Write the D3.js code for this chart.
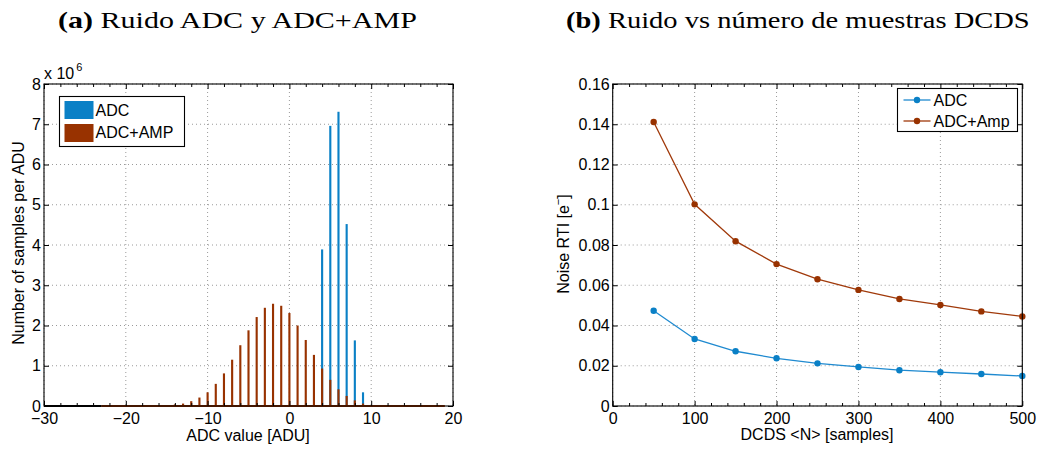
<!DOCTYPE html>
<html>
<head>
<meta charset="utf-8">
<script src="https://cdn.jsdelivr.net/npm/d3@7"></script>
<style>
  html, body { margin: 0; padding: 0; background: #fff; }
  svg { display: block; }
  .sans { font-family: "Liberation Sans", Arial, Helvetica, sans-serif; }
</style>
</head>
<body>
<svg id="chart" width="1053" height="450"></svg>
<script>
// ---------------- DATA ----------------
// (a) histogram: counts in units of 1e6
const adcBins   = [4, 5, 6, 7, 8, 9];
const adcCounts = [3.89, 6.96, 7.31, 4.52, 1.63, 0.34];

const ampBins   = [-23, -22, -21, -20, -19, -18, -17, -16, -15, -14, -13, -12, -11, -10,
                   -9, -8, -7, -6, -5, -4, -3, -2, -1, 0, 1, 2, 3, 4, 5, 6, 7, 8, 9,
                   10, 11, 12, 13, 14, 15, 16, 17, 18, 19];
const ampCounts = [0, 0, 0, 0, 0, 0, 0.005, 0.01, 0.02, 0.04, 0.06, 0.12, 0.21, 0.34,
                   0.55, 0.81, 1.15, 1.51, 1.88, 2.21, 2.44, 2.54, 2.49, 2.31, 2.0, 1.64, 1.27, 0.93, 0.65, 0.415, 0.25, 0.14, 0.06,
                   0.02, 0.01, 0, 0, 0, 0, 0, 0, 0, 0];

const histXTicks      = [-30, -20, -10, 0, 10, 20];
const histXTickLabels = ["\u221230", "\u221220", "\u221210", "0", "10", "20"];
const histXMinor      = [-28, -26, -24, -22, -18, -16, -14, -12, -8, -6, -4, -2, 2, 4, 6, 8, 12, 14, 16, 18];
const histYTicks      = [0, 1, 2, 3, 4, 5, 6, 7, 8];
const histYTickLabels = ["0", "1", "2", "3", "4", "5", "6", "7", "8"];

// (b) noise vs DCDS samples
const dcdsN      = [50, 100, 150, 200, 250, 300, 350, 400, 450, 500];
const noiseADC   = [0.0473, 0.0333, 0.0272, 0.0237, 0.0212, 0.0194, 0.0178, 0.0168, 0.0159, 0.0149];
const noiseAmp   = [0.1411, 0.1002, 0.0819, 0.0705, 0.0630, 0.0577, 0.0532, 0.0502, 0.0470, 0.0445];

const noiseXTicks      = [0, 100, 200, 300, 400, 500];
const noiseXTickLabels = ["0", "100", "200", "300", "400", "500"];
const noiseXMinor      = [20, 40, 60, 80, 120, 140, 160, 180, 220, 240, 260, 280, 320, 340, 360, 380, 420, 440, 460, 480];
const noiseYTicks      = [0, 0.02, 0.04, 0.06, 0.08, 0.1, 0.12, 0.14, 0.16];
const noiseYTickLabels = ["0", "0.02", "0.04", "0.06", "0.08", "0.1", "0.12", "0.14", "0.16"];

const seriesNamesA = ["ADC", "ADC+AMP"];
const seriesNamesB = ["ADC", "ADC+Amp"];

// ---------------- STYLE ----------------
const BLUE = "#0a80c6";
const ORANGE = "#983200";
const BLUE_LINE = "#1f8ad0";
const ORANGE_LINE = "#a0390a";
const FONT = 16;

const svg = d3.select("#chart");

// ---------------- helpers ----------------
function gridAndBox(g, x, y, xTicks, yTicks, w, h) {
  const grid = g.append("g");
  grid.selectAll("line.gx").data(xTicks).join("line")
    .attr("x1", d => x(d)).attr("x2", d => x(d)).attr("y1", 0).attr("y2", h)
    .attr("stroke", "#9a9a9a").attr("stroke-width", 1).attr("stroke-dasharray", "1,3");
  grid.selectAll("line.gy").data(yTicks).join("line")
    .attr("x1", 0).attr("x2", w).attr("y1", d => y(d)).attr("y2", d => y(d))
    .attr("stroke", "#9a9a9a").attr("stroke-width", 1).attr("stroke-dasharray", "1,3");
}

function axes(g, x, y, w, h, xTicks, xLabels, xMinor, yTicks, yLabels) {
  const style = sel => {
    sel.select(".domain").remove();
    sel.selectAll(".tick line").attr("stroke", "#000");
    sel.selectAll(".tick text").attr("fill", "#000").attr("font-size", FONT)
      .attr("font-family", '"Liberation Sans", Arial, Helvetica, sans-serif');
  };
  g.append("g").attr("transform", `translate(0,${h})`)
    .call(d3.axisBottom(x).tickValues(xTicks).tickSize(-5).tickPadding(7)
      .tickFormat((d, i) => xLabels[i])).call(style);
  g.append("g").attr("transform", `translate(0,${h})`)
    .call(d3.axisBottom(x).tickValues(xMinor).tickSize(-3).tickFormat("")).call(style);
  g.append("g")
    .call(d3.axisTop(x).tickValues(xTicks).tickSize(-5).tickFormat("")).call(style);
  g.append("g")
    .call(d3.axisTop(x).tickValues(xMinor).tickSize(-3).tickFormat("")).call(style);
  g.append("g")
    .call(d3.axisLeft(y).tickValues(yTicks).tickSize(-5).tickPadding(3)
      .tickFormat((d, i) => yLabels[i])).call(style);
  g.append("g").attr("transform", `translate(${w},0)`)
    .call(d3.axisRight(y).tickValues(yTicks).tickSize(-5).tickFormat("")).call(style);
  g.append("rect").attr("x", 0).attr("y", 0).attr("width", w).attr("height", h)
    .attr("fill", "none").attr("stroke", "#000").attr("stroke-width", 1.1);
}

function title(x0, x1, yb, bold, rest) {
  const t = svg.append("text").attr("font-family", '"Liberation Serif", "Times New Roman", serif')
    .attr("font-size", 24).attr("fill", "#000").attr("x", 0).attr("y", 0);
  t.append("tspan").attr("font-weight", "bold").text(bold);
  t.append("tspan").text(" " + rest);
  const w = t.node().getComputedTextLength();
  t.attr("transform", `translate(${x0},${yb}) scale(${(x1 - x0) / w},1)`);
}

// ---------------- PANEL (a) ----------------
const A = { left: 44, right: 453, top: 84, bottom: 406 };
const aw = A.right - A.left, ah = A.bottom - A.top;
const ga = svg.append("g").attr("transform", `translate(${A.left},${A.top})`);
const xa = d3.scaleLinear().domain([-30, 20]).range([0, aw]);
const ya = d3.scaleLinear().domain([0, 8]).range([ah, 0]);

gridAndBox(ga, xa, ya, histXTicks, histYTicks, aw, ah);

const barW = xa(0.26) - xa(0);
ga.append("g").selectAll("rect").data(adcBins).join("rect")
  .attr("x", (d) => xa(d) - barW / 2).attr("width", barW)
  .attr("y", (d, i) => ya(adcCounts[i])).attr("height", (d, i) => ya(0) - ya(adcCounts[i]))
  .attr("fill", BLUE);
ga.append("g").selectAll("rect").data(ampBins).join("rect")
  .attr("x", (d) => xa(d) - barW / 2).attr("width", barW)
  .attr("y", (d, i) => ya(ampCounts[i])).attr("height", (d, i) => ya(0) - ya(ampCounts[i]))
  .attr("fill", ORANGE);
// baseline of the histograms
ga.append("line").attr("x1", xa(-30)).attr("x2", xa(d3.min(ampBins)))
  .attr("y1", ya(0)).attr("y2", ya(0)).attr("stroke", "#000").attr("stroke-width", 2);
ga.append("line").attr("x1", xa(d3.min(ampBins))).attr("x2", xa(d3.max(ampBins)))
  .attr("y1", ya(0)).attr("y2", ya(0)).attr("stroke", ORANGE).attr("stroke-width", 2);

axes(ga, xa, ya, aw, ah, histXTicks, histXTickLabels, histXMinor, histYTicks, histYTickLabels);

// x 10^6
const e6 = svg.append("text").attr("class", "sans").attr("x", 44).attr("y", 79)
  .attr("font-size", FONT).attr("fill", "#000");
e6.append("tspan").text("x 10");
e6.append("tspan").attr("font-size", 11).attr("dx", 2).attr("dy", -8).text("6");

// legend (a)
const la = svg.append("g").attr("transform", "translate(59.5,96.5)");
la.append("rect").attr("width", 125).attr("height", 50).attr("fill", "#fff")
  .attr("stroke", "#000").attr("stroke-width", 1.1);
[BLUE, ORANGE].forEach((c, i) => {
  la.append("rect").attr("x", 5).attr("y", 4.5 + i * 23).attr("width", 29).attr("height", 18).attr("fill", c);
  la.append("text").attr("class", "sans").attr("x", 36).attr("y", 19.5 + i * 22)
    .attr("font-size", FONT).attr("fill", "#000").text(seriesNamesA[i]);
});

// axis labels (a)
svg.append("text").attr("class", "sans").attr("x", 248).attr("y", 441)
  .attr("text-anchor", "middle").attr("font-size", FONT).attr("fill", "#000").text("ADC value [ADU]");
svg.append("text").attr("class", "sans").attr("transform", "translate(24,243) rotate(-90)")
  .attr("text-anchor", "middle").attr("font-size", FONT).attr("fill", "#000").text("Number of samples per ADU");

// ---------------- PANEL (b) ----------------
const B = { left: 612.7, right: 1022.3, top: 84, bottom: 406 };
const bw = B.right - B.left, bh = B.bottom - B.top;
const gb = svg.append("g").attr("transform", `translate(${B.left},${B.top})`);
const xb = d3.scaleLinear().domain([0, 500]).range([0, bw]);
const yb = d3.scaleLinear().domain([0, 0.16]).range([bh, 0]);

gridAndBox(gb, xb, yb, noiseXTicks, noiseYTicks, bw, bh);

const line = d3.line().x((d, i) => xb(dcdsN[i])).y(d => yb(d));
[[noiseADC, BLUE_LINE, BLUE], [noiseAmp, ORANGE_LINE, ORANGE]].forEach(([vals, lc, mc]) => {
  gb.append("path").datum(vals).attr("d", line).attr("fill", "none")
    .attr("stroke", lc).attr("stroke-width", 1.3);
  gb.append("g").selectAll("circle").data(vals).join("circle")
    .attr("cx", (d, i) => xb(dcdsN[i])).attr("cy", d => yb(d)).attr("r", 3.2).attr("fill", mc);
});

axes(gb, xb, yb, bw, bh, noiseXTicks, noiseXTickLabels, noiseXMinor, noiseYTicks, noiseYTickLabels);

// legend (b)
const lb = svg.append("g").attr("transform", "translate(897.5,88.5)");
lb.append("rect").attr("width", 120).attr("height", 43).attr("fill", "#fff")
  .attr("stroke", "#000").attr("stroke-width", 1.1);
[[BLUE_LINE, BLUE], [ORANGE_LINE, ORANGE]].forEach(([lc, mc], i) => {
  const cy = 11.5 + i * 21;
  lb.append("line").attr("x1", 6).attr("x2", 33).attr("y1", cy).attr("y2", cy)
    .attr("stroke", lc).attr("stroke-width", 1.3);
  lb.append("circle").attr("cx", 19.5).attr("cy", cy).attr("r", 3.2).attr("fill", mc);
  lb.append("text").attr("class", "sans").attr("x", 36).attr("y", cy + 6)
    .attr("font-size", FONT).attr("fill", "#000").text(seriesNamesB[i]);
});

// axis labels (b)
svg.append("text").attr("class", "sans").attr("x", 817).attr("y", 440)
  .attr("text-anchor", "middle").attr("font-size", FONT).attr("fill", "#000").text("DCDS <N> [samples]");
const yl = svg.append("text").attr("class", "sans").attr("transform", "translate(569,244) rotate(-90)")
  .attr("text-anchor", "middle").attr("font-size", FONT).attr("fill", "#000");
yl.append("tspan").text("Noise RTI [e");
yl.append("tspan").attr("font-size", 11).attr("dy", -7).text("\u2212");
yl.append("tspan").attr("dy", 7).text("]");

// ---------------- TITLES ----------------
title(58, 417, 28, "(a)", "Ruido ADC y ADC+AMP");
title(566, 1030, 28, "(b)", "Ruido vs número de muestras DCDS");
</script>
</body>
</html>
